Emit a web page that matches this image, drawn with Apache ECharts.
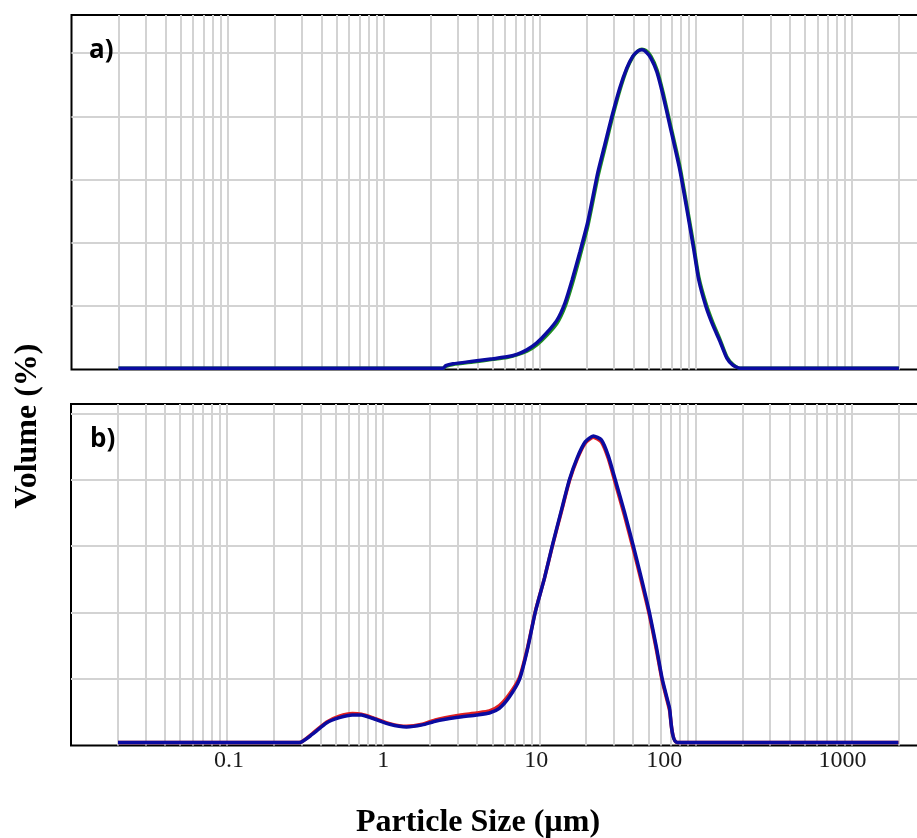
<!DOCTYPE html>
<html>
<head>
<meta charset="utf-8">
<script src="https://cdn.jsdelivr.net/npm/echarts@6/dist/echarts.min.js"></script>
<style>
html,body{margin:0;padding:0;background:#fff;}
#chart{width:917px;height:838px;}
</style>
</head>
<body>
<div id="chart"></div>
<script>
// ---- Panel a) : particle size (µm) and volume (%) ----
const sizeA = [0.02, 2.4, 2.5, 2.78, 3.73, 5.0, 6.16, 7.14, 8.27, 9.58, 11.1, 12.9, 14.5, 16.1, 18.1, 20.3, 23.6, 26.1, 29.0, 32.6, 36.1, 39.5, 42.5, 45.1, 47.8, 51.5, 56.3, 61.5, 68.1, 79.0, 88.9, 97.1, 104.5, 115.9, 128.5, 142.5, 158, 172.6, 191.4, 2000];
const volA_blue = [0.02, 0.02, 0.06, 0.09, 0.13, 0.17, 0.2, 0.24, 0.31, 0.42, 0.58, 0.78, 1.05, 1.41, 1.86, 2.33, 3.12, 3.55, 4.0, 4.45, 4.76, 4.95, 5.03, 5.05, 5.02, 4.92, 4.7, 4.34, 3.86, 3.15, 2.44, 1.89, 1.41, 1.0, 0.70, 0.45, 0.18, 0.07, 0.02, 0.02];
const volA_green = [0.02, 0.02, 0.05, 0.08, 0.12, 0.16, 0.19, 0.23, 0.29, 0.39, 0.54, 0.73, 0.99, 1.34, 1.79, 2.26, 3.05, 3.49, 3.95, 4.41, 4.74, 4.94, 5.03, 5.06, 5.04, 4.95, 4.74, 4.39, 3.91, 3.21, 2.5, 1.95, 1.46, 1.05, 0.74, 0.48, 0.2, 0.08, 0.02, 0.02];

// ---- Panel b) ----
const sizeB = [0.02, 0.29, 0.352, 0.433, 0.524, 0.635, 0.725, 0.853, 1.10, 1.41, 1.78, 2.19, 2.94, 3.96, 4.79, 5.55, 6.43, 7.46, 8.39, 9.44, 10.8, 12.1, 13.9, 15.6, 17.5, 19.7, 22.2, 25.0, 27.7, 30.7, 35.1, 40.1, 45.1, 50.7, 56.3, 61.5, 68.1, 76.7, 2000];
const volB_blue = [0.045, 0.045, 0.17, 0.34, 0.42, 0.46, 0.46, 0.41, 0.32, 0.28, 0.31, 0.37, 0.42, 0.46, 0.49, 0.56, 0.73, 0.99, 1.44, 2.01, 2.52, 3.0, 3.55, 4.0, 4.33, 4.57, 4.66, 4.6, 4.36, 4.0, 3.52, 3.0, 2.52, 2.01, 1.48, 0.99, 0.58, 0.045, 0.045];
const volB_red = [0.045, 0.045, 0.18, 0.35, 0.44, 0.48, 0.47, 0.42, 0.33, 0.29, 0.32, 0.39, 0.45, 0.49, 0.52, 0.6, 0.77, 1.02, 1.46, 2.02, 2.52, 2.99, 3.53, 3.98, 4.31, 4.55, 4.64, 4.57, 4.32, 3.95, 3.47, 2.95, 2.47, 1.97, 1.44, 0.96, 0.55, 0.045, 0.045];

// ---- Axis texts / ticks ----
const decadeLabels = {'-1': '0.1', '0': '1', '1': '10', '2': '100', '3': '1000'};
const minorMantissas = [2, 3, 4, 5, 6, 7, 8, 9];
const decades = [0.01, 0.1, 1, 10, 100, 1000];
const xTitle = 'Particle Size (µm)';
const yTitle = 'Volume (%)';
const panelLabels = ['a)', 'b)'];

const minorGrid = [];
decades.forEach(d => minorMantissas.forEach(m => minorGrid.push(+(d * m).toPrecision(3))));

const pairs = (xs, ys) => xs.map((x, i) => [x, ys[i]]);
const GRID_COLOR = '#d3d3d3';

const labelShift = {'0.1': [0, 0, 0, 4], '1': [0, 0, 0, 0], '10': [0, 6, 0, 0], '100': [0, 62, 0, 0], '1000': [0, 18, 0, 0]};
const rich = {};
const labelKeys = Object.keys(labelShift);
labelKeys.forEach((k, i) => {
  rich['l' + i] = {padding: labelShift[k], fontFamily: 'Liberation Serif', fontSize: 24, color: '#1a1a1a'};
});

function xAxisDef(gi, showLabel) {
  return {
    gridIndex: gi, type: 'log', logBase: 10, min: 0.01, max: 10000,
    axisLine: {show: false}, axisTick: {show: false},
    splitLine: {show: true, showMinLine: false, showMaxLine: false, lineStyle: {color: GRID_COLOR, width: 2}},
    axisLabel: {
      show: showLabel, margin: 3, fontFamily: 'Liberation Serif', fontSize: 24, color: '#1a1a1a',
      rich: rich, hideOverlap: false,
      formatter: function (v) {
        const e = Math.round(Math.log10(v));
        const t = decadeLabels[String(e)];
        if (!t) return '';
        return '{l' + labelKeys.indexOf(t) + '|' + t + '}';
      }
    }
  };
}
function yAxisDef(gi, max) {
  return {
    gridIndex: gi, type: 'value', min: 0, max: max, interval: 1,
    axisLine: {show: false}, axisTick: {show: false}, axisLabel: {show: false},
    splitLine: {show: true, showMinLine: false, showMaxLine: false, lineStyle: {color: GRID_COLOR, width: 2}}
  };
}
function gridLinesSeries(gi) {
  return {
    type: 'line', xAxisIndex: gi, yAxisIndex: gi, data: [], z: 1, silent: true,
    markLine: {
      silent: true, symbol: ['none', 'none'], animation: false, z: 1,
      label: {show: false},
      lineStyle: {color: GRID_COLOR, width: 2, type: 'solid'},
      emphasis: {disabled: true},
      data: minorGrid.map(v => ({xAxis: v}))
    }
  };
}
function curve(gi, data, color, z) {
  return {
    type: 'line', xAxisIndex: gi, yAxisIndex: gi, data: data, z: z,
    showSymbol: false, symbol: 'none', smooth: 0.2,
    lineStyle: {color: color, width: 3.5}, silent: true
  };
}

const chart = echarts.init(document.getElementById('chart'), null, {renderer: 'canvas'});
chart.setOption({
  animation: false,
  backgroundColor: '#fff',
  grid: [
    {left: 71.5, width: 936.5, top: 15, height: 354.5, show: true, borderColor: '#000', borderWidth: 2, backgroundColor: '#fff', outerBoundsMode: 'none', containLabel: false},
    {left: 71, width: 936.5, top: 404, height: 341.5, show: true, borderColor: '#000', borderWidth: 2, backgroundColor: '#fff', outerBoundsMode: 'none', containLabel: false}
  ],
  xAxis: [xAxisDef(0, false), xAxisDef(1, true)],
  yAxis: [yAxisDef(0, 5.6), yAxisDef(1, 5.14)],
  series: [
    gridLinesSeries(0), gridLinesSeries(1),
    curve(0, pairs(sizeA, volA_green), '#1f8f1f', 3),
    curve(0, pairs(sizeA, volA_blue), '#0b0ba0', 4),
    curve(1, pairs(sizeB, volB_red), '#e02020', 3),
    curve(1, pairs(sizeB, volB_blue), '#0b0ba0', 4)
  ],
  graphic: [
    {type: 'text', x: 89, y: 51, z: 10, style: {text: panelLabels[0], font: 'bold 26px "Open Sans"', fill: '#000', textAlign: 'left', textVerticalAlign: 'middle'}},
    {type: 'text', x: 90, y: 440, z: 10, style: {text: panelLabels[1], font: 'bold 26px "Open Sans"', fill: '#000', textAlign: 'left', textVerticalAlign: 'middle'}},
    {type: 'text', x: 478, y: 823, z: 10, style: {text: xTitle, font: 'bold 32px "Liberation Serif"', fill: '#000', textAlign: 'center', textVerticalAlign: 'middle'}},
    {type: 'text', x: 28, y: 426, rotation: Math.PI / 2, z: 10, style: {text: yTitle, font: 'bold 32px "Liberation Serif"', fill: '#000', textAlign: 'center', textVerticalAlign: 'middle'}}
  ]
});
</script>
</body>
</html>
